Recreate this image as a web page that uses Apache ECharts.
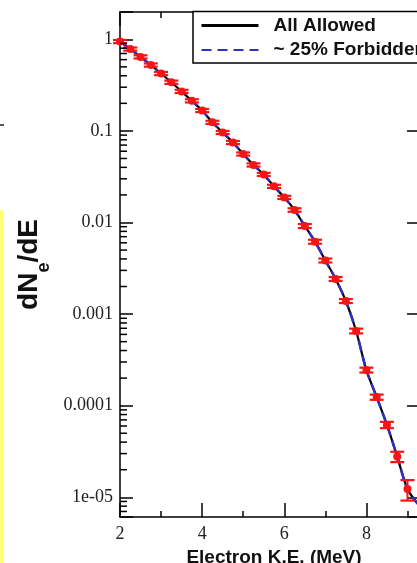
<!DOCTYPE html>
<html>
<head>
<meta charset="utf-8">
<script src="https://cdn.jsdelivr.net/npm/echarts@6/dist/echarts.min.js"></script>
<style>
  html, body { margin: 0; padding: 0; background: #fff; overflow: hidden; }
  #chart { width: 417px; height: 563px; }
</style>
</head>
<body>
<div id="chart"></div>
<script>
// ---- data ----
const energy = [2.0, 2.25, 2.5, 2.75, 3.0, 3.25, 3.5, 3.75, 4.0, 4.25, 4.5, 4.75, 5.0, 5.25, 5.5, 5.75,
                6.0, 6.25, 6.5, 6.75, 7.0, 7.25, 7.5, 7.75, 8.0, 8.25, 8.5, 8.75, 9.0];
const measured = [0.946, 0.783, 0.643, 0.524, 0.423, 0.340, 0.270, 0.213, 0.167, 0.124, 0.0961, 0.0747,
                  0.0560, 0.0425, 0.0335, 0.0248, 0.0188, 0.0137, 0.00916, 0.00617, 0.00385, 0.00242,
                  0.00139, 0.000654, 0.000245, 0.000124, 6.17e-5, 2.78e-5, 1.23e-5];
const measuredErr = [0.038, 0.031, 0.026, 0.021, 0.017, 0.014, 0.011, 0.0085, 0.0067, 0.0050, 0.0038, 0.0030,
                     0.0022, 0.0017, 0.0013, 0.0010, 0.00075, 0.00060, 0.00046, 0.00031, 0.00019, 0.00012,
                     0.00007, 0.000039, 0.000015, 0.0000081, 0.0000049, 0.0000036, 0.0000031];
const curveEnergy = [2.0, 2.25, 2.5, 2.75, 3.0, 3.25, 3.5, 3.75, 4.0, 4.25, 4.5, 4.75, 5.0, 5.25, 5.5, 5.75,
                     6.0, 6.25, 6.5, 6.75, 7.0, 7.25, 7.5, 7.75, 8.0, 8.25, 8.5, 8.75, 9.0, 9.25];
const allAllowed = [0.946, 0.783, 0.643, 0.524, 0.423, 0.340, 0.270, 0.213, 0.167, 0.124, 0.0961, 0.0747,
                    0.0560, 0.0425, 0.0335, 0.0248, 0.0188, 0.0137, 0.00916, 0.00617, 0.00385, 0.00242,
                    0.00139, 0.000654, 0.000245, 0.000124, 6.17e-5, 2.78e-5, 1.23e-5, 8.5e-6];
const forbidden25 = [0.946, 0.783, 0.643, 0.524, 0.423, 0.340, 0.270, 0.213, 0.167, 0.124, 0.0961, 0.0747,
                     0.0560, 0.0425, 0.0335, 0.0248, 0.0188, 0.0137, 0.00916, 0.00617, 0.00385, 0.00242,
                     0.00139, 0.000654, 0.000245, 0.000124, 6.17e-5, 2.78e-5, 1.23e-5, 8.5e-6];
const seriesNames = ['All Allowed', '~ 25% Forbidden'];
const xTickValues = [2, 4, 6, 8];
const xTickLabels = ['2', '4', '6', '8'];
const yTickValues = [1e-5, 1e-4, 1e-3, 1e-2, 1e-1, 1];
const yTickLabels = ['1e-05', '0.0001', '0.001', '0.01', '0.1', '1'];
const xTitle = 'Electron K.E. (MeV)';

// ---- axis setup ----
const X_MIN = 2, X_MAX = 9.5;
const Y_MIN = 6.09e-6, Y_MAX = 1.987;
const BLUE = '#3030c0';

// minor tick positions of the log axis (2..9 x 10^k)
const yMinorTicks = [];
for (let e = -6; e <= 0; e++) {
  for (let k = 2; k <= 9; k++) {
    const v = k * Math.pow(10, e);
    if (v > Y_MIN && v < Y_MAX) yMinorTicks.push(v);
  }
}

const chart = echarts.init(document.getElementById('chart'), null, { renderer: 'canvas' });

const serif = 'Liberation Serif';
const sans = 'Liberation Sans';

function xLabel(v) {
  const i = xTickValues.findIndex(t => Math.abs(t - v) < 1e-9);
  return i >= 0 ? xTickLabels[i] : '';
}
function yLabel(v) {
  const i = yTickValues.findIndex(t => Math.abs(Math.log10(t) - Math.log10(v)) < 1e-6);
  return i >= 0 ? yTickLabels[i] : '';
}

const commonX = {
  type: 'value', min: X_MIN, max: X_MAX, interval: 2,
  axisLine: { show: true, lineStyle: { color: '#000', width: 1.5 } },
  axisTick: { show: true, inside: true, length: 14, lineStyle: { color: '#000', width: 1.5 } },
  minorTick: { show: true, splitNumber: 2, length: 6, lineStyle: { color: '#000', width: 1.5 } },
  splitLine: { show: false }, minorSplitLine: { show: false }
};
const commonY = {
  type: 'log', logBase: 10, min: Y_MIN, max: Y_MAX,
  axisLine: { show: true, lineStyle: { color: '#000', width: 1.5 } },
  axisTick: { show: true, inside: true, length: 13, lineStyle: { color: '#000', width: 1.5 } },
  splitLine: { show: false }
};

const option = {
  animation: false,
  backgroundColor: '#fff',
  grid: { left: 120, right: -11, top: 12, bottom: 46, containLabel: false, outerBoundsMode: 'none' },
  legend: {
    left: 193, top: 11.5, orient: 'vertical', z: 10,
    data: [
      { name: seriesNames[0], lineStyle: { color: '#000', width: 3, type: 'solid' } },
      { name: seriesNames[1], lineStyle: { color: BLUE, width: 2, type: [10, 6] } }
    ],
    backgroundColor: '#fff',
    borderColor: '#000', borderWidth: 1.5, borderRadius: 0,
    padding: [4, 30, 3, 7],
    itemWidth: 57, itemHeight: 14, itemGap: 4.5,
    selectedMode: false,
    itemStyle: { opacity: 0 },
    textStyle: { fontFamily: sans, fontWeight: 'bold', fontSize: 19, lineHeight: 20, color: '#111', padding: [0, 0, 0, 10] }
  },
  xAxis: [
    Object.assign({}, commonX, {
      position: 'bottom',
      axisLabel: { show: true, margin: 8, fontFamily: serif, fontSize: 18, color: '#222', formatter: xLabel, showMaxLabel: false },
      name: xTitle, nameLocation: 'middle', nameGap: 28,
      nameTextStyle: { fontFamily: sans, fontWeight: 'bold', fontSize: 19, color: '#111' }
    }),
    Object.assign({}, commonX, { position: 'top', axisLabel: { show: false } })
  ],
  yAxis: [
    Object.assign({}, commonY, {
      position: 'left',
      axisLabel: { show: true, margin: 7, fontFamily: serif, fontSize: 18, color: '#222', formatter: yLabel },
      name: '{m|dN}{s|e}{m|/dE}', nameLocation: 'middle', nameRotate: 90, nameGap: 66,
      nameTextStyle: {
        rich: {
          m: { fontFamily: sans, fontWeight: 'bold', fontSize: 28, lineHeight: 30, verticalAlign: 'top', color: '#111' },
          s: { fontFamily: sans, fontWeight: 'bold', fontSize: 18, lineHeight: 18, verticalAlign: 'top', padding: [19, 0, 0, 0], color: '#111' }
        }
      }
    }),
    Object.assign({}, commonY, {
      position: 'right', axisLabel: { show: false },
      axisTick: { show: true, inside: true, length: 21, lineStyle: { color: '#000', width: 1.5 } }
    })
  ],
  graphic: [
    { type: 'rect', silent: true, shape: { x: 0, y: 210, width: 3, height: 353 }, style: { fill: '#ffff70' } },
    { type: 'line', silent: true, shape: { x1: 0, y1: 125, x2: 4, y2: 125 }, style: { stroke: '#222', lineWidth: 1.5 } }
  ],
  series: [
    {
      name: seriesNames[0], type: 'line', xAxisIndex: 0, yAxisIndex: 0,
      data: curveEnergy.map((x, i) => [x, allAllowed[i]]),
      smooth: 0.3, symbol: 'none', z: 2,
      lineStyle: { color: '#000', width: 2.2, type: 'solid' },
      itemStyle: { color: '#000' }
    },
    {
      name: seriesNames[1], type: 'line', xAxisIndex: 0, yAxisIndex: 0,
      data: curveEnergy.map((x, i) => [x, forbidden25[i]]),
      smooth: 0.3, symbol: 'none', z: 3,
      lineStyle: { color: BLUE, width: 2.5, type: [10, 5] },
      itemStyle: { color: BLUE }
    },
    {
      name: 'measured', type: 'custom', xAxisIndex: 0, yAxisIndex: 0, z: 4, silent: true,
      data: energy.map((x, i) => [x, measured[i], measured[i] - measuredErr[i], measured[i] + measuredErr[i]]),
      renderItem: function (params, api) {
        const c = api.coord([api.value(0), api.value(1)]);
        const lo = api.coord([api.value(0), api.value(2)]);
        const hi = api.coord([api.value(0), api.value(3)]);
        const hw = 7;
        const red = '#f51515';
        return {
          type: 'group',
          children: [
            { type: 'line', shape: { x1: c[0], y1: lo[1], x2: c[0], y2: hi[1] }, style: { stroke: red, lineWidth: 2 } },
            { type: 'line', shape: { x1: c[0] - hw, y1: lo[1], x2: c[0] + hw, y2: lo[1] }, style: { stroke: red, lineWidth: 2.2 } },
            { type: 'line', shape: { x1: c[0] - hw, y1: hi[1], x2: c[0] + hw, y2: hi[1] }, style: { stroke: red, lineWidth: 2.2 } },
            { type: 'circle', shape: { cx: c[0], cy: c[1], r: 4 }, style: { fill: red, stroke: null } }
          ]
        };
      }
    },
    {
      name: 'yMinor', type: 'custom', xAxisIndex: 0, yAxisIndex: 0, z: 5, silent: true,
      data: yMinorTicks.map(v => [X_MIN, v]),
      renderItem: function (params, api) {
        const l = api.coord([X_MIN, api.value(1)]);
        return { type: 'line', shape: { x1: l[0], y1: l[1], x2: l[0] + 7, y2: l[1] }, style: { stroke: '#000', lineWidth: 1.5 } };
      }
    }
  ]
};
chart.setOption(option);
</script>
</body>
</html>
